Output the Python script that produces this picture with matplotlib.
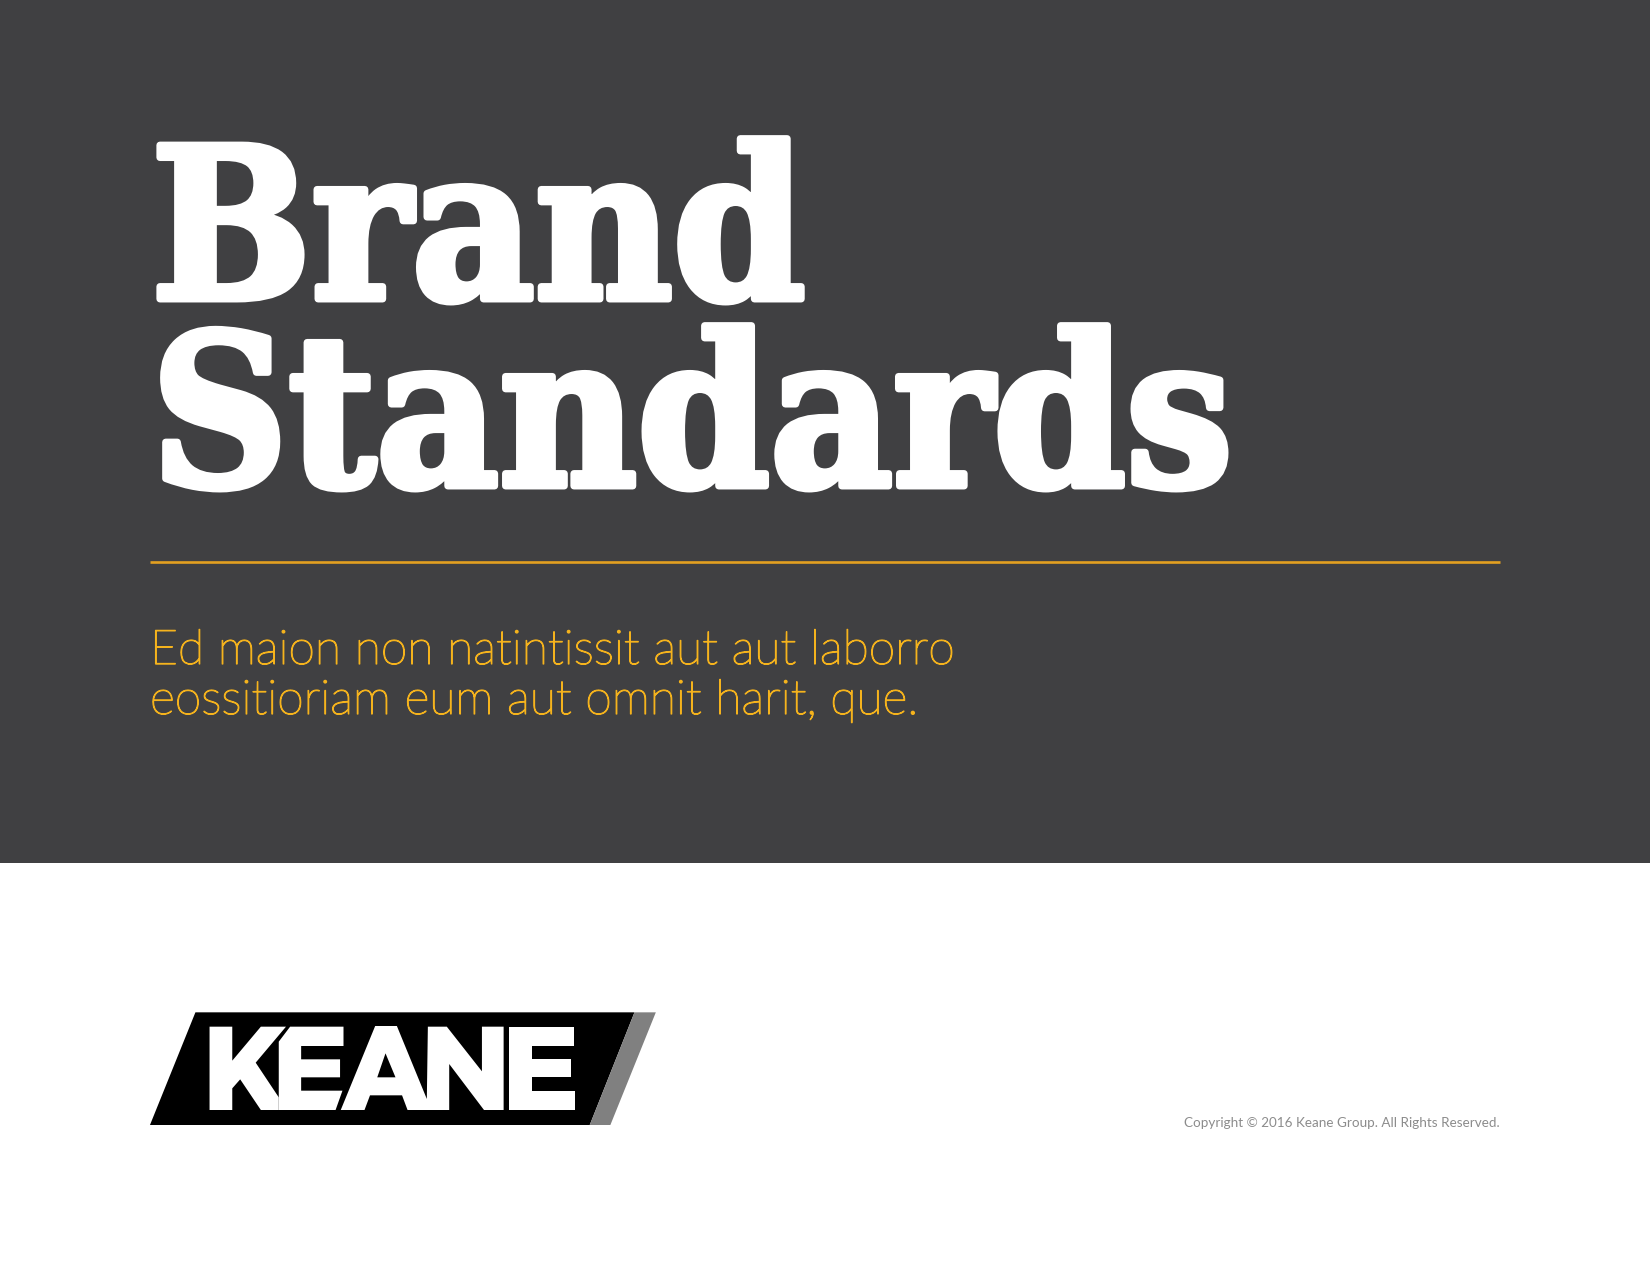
import matplotlib
matplotlib.use("Agg")
import matplotlib.pyplot as plt
import matplotlib.patheffects as pe
from matplotlib.patches import Polygon, Rectangle

W, H = 1650, 1275

BG_DARK = "#404042"
ORANGE_TEXT = "#F5B31D"
ORANGE_RULE = "#E3A021"
GREY_TEXT = "#8C8C8C"

title_lines = ["Brand", "Standards"]
title_baselines = [299, 486]
subtitle_lines = ["Ed maion non natintissit aut aut laborro",
                  "eossitioriam eum aut omnit harit, que."]
subtitle_baselines = [664, 714]
copyright_text = "Copyright \u00a9 2016 Keane Group. All Rights Reserved."

# logo shapes, drawn in a local grid then mapped onto the page
LOGO_X0, LOGO_Y0, LOGO_SX, LOGO_SY = 130, 990, 2.904, 3.0
logo_band = [(190, 67), (1465, 67), (1335, 405), (58, 405)]
logo_stripe = [(1465, 67), (1527, 67), (1395, 405), (1335, 405)]
letter_k = [(231, 110), (297, 110), (297, 212), (380, 110), (453, 110), (365, 218),
            (432, 322), (432, 360), (380, 360), (320, 268), (297, 295), (297, 360),
            (231, 360)]
letter_e1 = [(432, 155), (465, 110), (620, 110), (620, 168), (497, 168), (497, 208),
             (610, 208), (610, 262), (497, 262), (497, 302), (617, 302), (597, 360),
             (432, 360)]
letter_an = [(612, 360), (712, 108), (775, 108), (862, 327), (865, 110), (920, 110),
             (1022, 244), (1022, 110), (1085, 110), (1085, 360), (1028, 360),
             (927, 222), (927, 360), (806, 360), (790, 316), (697, 316), (681, 360)]
a_counter = [(742, 190), (718, 262), (771, 262)]
letter_e2 = [(1102, 110), (1290, 110), (1290, 168), (1166, 168), (1166, 208),
             (1280, 208), (1280, 262), (1166, 262), (1166, 302), (1292, 302),
             (1292, 360), (1102, 360)]


def to_page(pts):
    return [(LOGO_X0 + x / LOGO_SX, LOGO_Y0 + y / LOGO_SY) for x, y in pts]


fig = plt.figure(figsize=(W / 100, H / 100), dpi=100)
ax = fig.add_axes([0, 0, 1, 1])
ax.set_xlim(0, W)
ax.set_ylim(H, 0)
ax.axis("off")

# dark header block
ax.add_patch(Rectangle((0, 0), W, 863, fc=BG_DARK, ec="none"))

for txt, yb in zip(title_lines, title_baselines):
    ax.text(151, yb, txt, color="white", fontsize=152, fontweight="bold",
            family="DejaVu Serif", fontstretch="condensed",
            va="baseline", ha="left",
            path_effects=[pe.withStroke(linewidth=5, foreground="white")])

ax.plot([150, 1500], [561.5, 561.5], color=ORANGE_RULE, lw=1.9,
        solid_capstyle="butt")

for txt, yb in zip(subtitle_lines, subtitle_baselines):
    ax.text(150, yb, txt, color=ORANGE_TEXT, fontsize=34.6, fontweight="light",
            family="Lato", va="baseline", ha="left",
            path_effects=[pe.withStroke(linewidth=0.9, foreground=ORANGE_TEXT)])

# KEANE logo
ax.add_patch(Polygon(to_page(logo_band), closed=True, fc="black", ec="none"))
ax.add_patch(Polygon(to_page(logo_stripe), closed=True, fc="#808080", ec="none"))
for shape in (letter_k, letter_e1, letter_an, letter_e2):
    ax.add_patch(Polygon(to_page(shape), closed=True, fc="white", ec="none"))
ax.add_patch(Polygon(to_page(a_counter), closed=True, fc="black", ec="none"))

ax.text(1500, 1127, copyright_text, color=GREY_TEXT, fontsize=9.7,
        family="Lato", va="baseline", ha="right")

fig.savefig("out.png", dpi=100, facecolor="white")
